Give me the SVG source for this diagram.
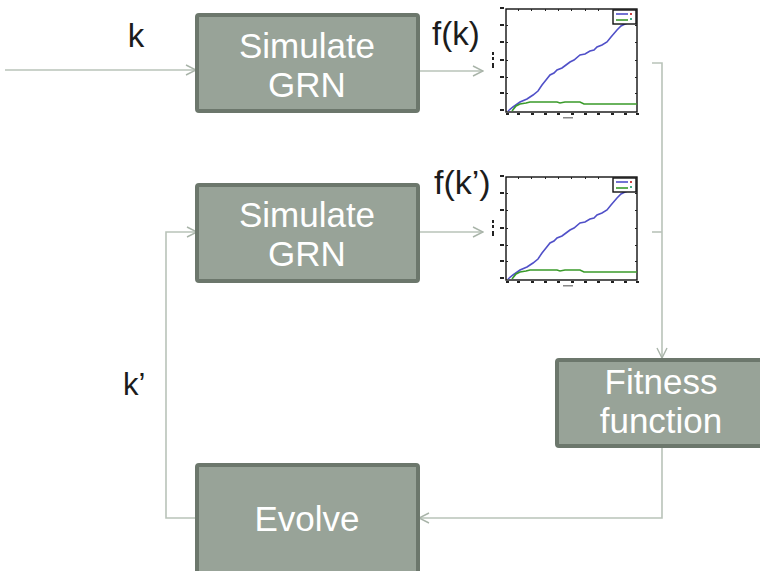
<svg xmlns="http://www.w3.org/2000/svg" width="760" height="571" viewBox="0 0 760 571">
<style>
.box{fill:#98a398;stroke:#6c776c;stroke-width:4}
.bt{font-family:"Liberation Sans",Arial,sans-serif;font-size:35px;fill:#ffffff;text-anchor:middle}
.lb{font-family:"Liberation Sans",Arial,sans-serif;fill:#1c1c1c}
.con{fill:none;stroke:#b9c3b9;stroke-width:1.6}
.fr{fill:#ffffff;stroke:#111;stroke-width:1.4}
.tk{fill:#222}
</style>
<defs>
<marker id="ah" viewBox="0 0 12 12" refX="11" refY="6" markerWidth="12" markerHeight="12" markerUnits="userSpaceOnUse" orient="auto">
<path d="M1,1 L11,6 L1,11" fill="none" stroke="#a9b4a9" stroke-width="1.4"/>
</marker>
<g id="plot">
<rect class="fr" x="506" y="9" width="131" height="103"/>
<g class="tk">
<rect x="500" y="7" width="4" height="2"/><rect x="500" y="24" width="4" height="2"/><rect x="500" y="41" width="4" height="2"/><rect x="500" y="59" width="4" height="2"/><rect x="500" y="76" width="4" height="2"/><rect x="500" y="92" width="4" height="2"/><rect x="500" y="109" width="4" height="2"/>
<rect x="506" y="25" width="2" height="1"/><rect x="506" y="42" width="2" height="1"/><rect x="506" y="60" width="2" height="1"/><rect x="506" y="77" width="2" height="1"/><rect x="506" y="93" width="2" height="1"/>
<rect x="518" y="9" width="1" height="2"/><rect x="531" y="9" width="1" height="2"/><rect x="545" y="9" width="1" height="2"/><rect x="558" y="9" width="1" height="2"/><rect x="571" y="9" width="1" height="2"/><rect x="585" y="9" width="1" height="2"/><rect x="598" y="9" width="1" height="2"/>
<rect x="635" y="25" width="2" height="1"/><rect x="635" y="42" width="2" height="1"/><rect x="635" y="60" width="2" height="1"/><rect x="635" y="77" width="2" height="1"/><rect x="635" y="93" width="2" height="1"/>
<rect x="506" y="113" width="3" height="2"/><rect x="517" y="113" width="3" height="2"/><rect x="531" y="113" width="3" height="2"/><rect x="544" y="113" width="3" height="2"/><rect x="557" y="113" width="3" height="2"/><rect x="571" y="113" width="3" height="2"/><rect x="584" y="113" width="3" height="2"/><rect x="597" y="113" width="3" height="2"/><rect x="611" y="113" width="3" height="2"/><rect x="624" y="113" width="3" height="2"/><rect x="636" y="113" width="3" height="2"/>
<rect x="563" y="117" width="10" height="1.5" fill="#888"/>
<rect x="492" y="52" width="2" height="3"/><rect x="492" y="57" width="2" height="3"/><rect x="492" y="63" width="2" height="5"/>
</g>
<polyline fill="none" stroke="#5050c8" stroke-width="1.6" points="508,111 513,107 520,102 527,99 533,95 538,91 542,85 546,80 550,75 554,73 557,70 562,68 566,65 570,62 574,60 580,55 585,54 590,51 594,50 597,47 602,45 607,42 611,37 617,30 621,26 625,24 628,23"/>
<polyline fill="none" stroke="#3a9a2a" stroke-width="1.6" points="512,111 516,106 520,104 526,103 530,102 557,102 560,103 565,102 580,102 584,104 600,104 620,104 637,104"/>
<rect x="613" y="10" width="23" height="14" fill="#fff" stroke="#111" stroke-width="1.4"/>
<line x1="616" y1="14" x2="628" y2="14" stroke="#5050c8" stroke-width="1.6"/>
<line x1="616" y1="20" x2="628" y2="20" stroke="#3a9a2a" stroke-width="1.6"/>
<rect x="630" y="13" width="2" height="2" fill="#c44"/><rect x="630" y="18" width="2" height="2" fill="#4a8"/>
</g>
</defs>
<rect width="760" height="571" fill="#ffffff"/>
<g id="connectors">
<line class="con" x1="5" y1="70" x2="196" y2="70" marker-end="url(#ah)"/>
<line class="con" x1="420" y1="71" x2="483" y2="71" marker-end="url(#ah)"/>
<line class="con" x1="420" y1="232" x2="483" y2="232" marker-end="url(#ah)"/>
<polyline class="con" points="652,63 662,63 662,358" marker-end="url(#ah)"/>
<line class="con" x1="652" y1="232" x2="662" y2="232"/>
<polyline class="con" points="662,448 662,518 419,518" marker-end="url(#ah)"/>
<polyline class="con" points="196,518 166,518 166,232 197,232" marker-end="url(#ah)"/>
</g>
<g id="plot1"><use href="#plot"/></g>
<g id="plot2"><use href="#plot" transform="translate(0,168)"/></g>
<g id="sim1">
<rect class="box" x="197" y="15" width="221" height="96" rx="2"/>
<text class="bt" x="307" y="58">Simulate</text>
<text class="bt" x="307" y="97">GRN</text>
</g>
<g id="sim2">
<rect class="box" x="197" y="185" width="221" height="96" rx="2"/>
<text class="bt" x="307" y="227">Simulate</text>
<text class="bt" x="307" y="266">GRN</text>
</g>
<g id="fitness">
<rect class="box" x="557" y="360" width="210" height="86" rx="2"/>
<text class="bt" x="661" y="394">Fitness</text>
<text class="bt" x="661" y="433">function</text>
</g>
<g id="evolve">
<rect class="box" x="197" y="465" width="221" height="112" rx="2"/>
<text class="bt" x="307" y="531">Evolve</text>
</g>
<g id="labels">
<text class="lb" x="136" y="47" font-size="33" text-anchor="middle">k</text>
<text class="lb" x="432" y="45" font-size="33">f(k)</text>
<text class="lb" x="434" y="194" font-size="34">f(k’)</text>
<text class="lb" x="123" y="395" font-size="31">k’</text>
</g>
</svg>
